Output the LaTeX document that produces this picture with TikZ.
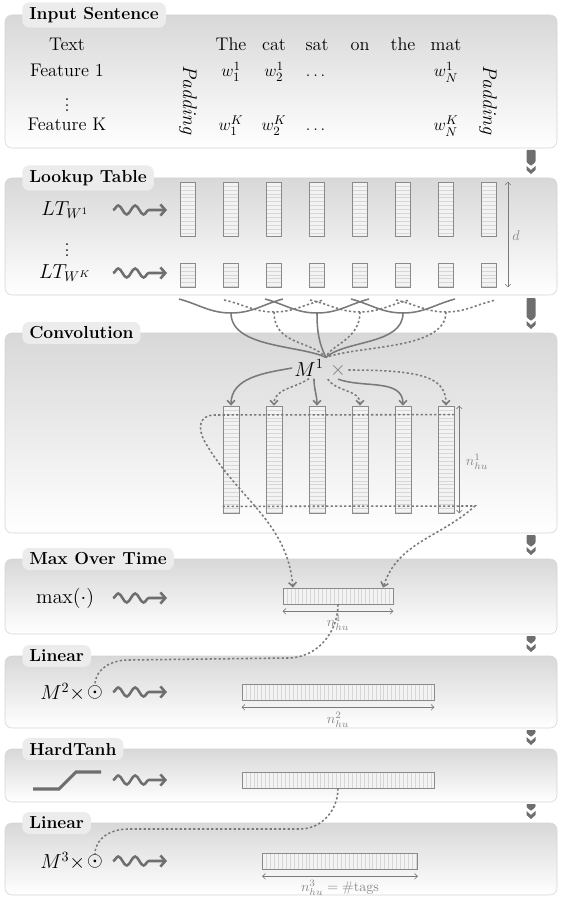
\documentclass[tikz,border=0pt]{standalone}
\usepackage{amsmath,amssymb}
\usetikzlibrary{arrows.meta,positioning,calc,decorations.pathmorphing}
\definecolor{tabgray}{HTML}{ECECEC}
\definecolor{layertop}{HTML}{D8D8D8}
\definecolor{layerline}{HTML}{D4D4D4}
\definecolor{arrgray}{HTML}{6E6E6E}
\definecolor{linegray}{HTML}{7A7A7A}
\definecolor{colline}{HTML}{8A8A8A}
\definecolor{colfill}{HTML}{F3F3F3}
\definecolor{stripegray}{HTML}{D6D6D6}
\definecolor{labelgray}{HTML}{8A8A8A}

\begin{document}
\begin{tikzpicture}[x=0.025cm, y=-0.025cm,
    font=\fontsize{13}{15.6}\selectfont, inner sep=1.5pt,
    layerbox/.style={draw=layerline, top color=layertop, bottom color=white, rounded corners=5pt},
    tabbox/.style={fill=tabgray, rounded corners=5pt, anchor=west, inner xsep=5pt, inner ysep=3.5pt, font=\fontsize{12.4}{15}\selectfont\bfseries},
    oplabel/.style={font=\fontsize{14.5}{17}\selectfont},
    hstripes/.style={path picture={\foreach \k in {1,...,40}
        \draw[stripegray, line width=0.35pt] ([yshift=-\k*2.8pt]path picture bounding box.north west) -- ([yshift=-\k*2.8pt]path picture bounding box.north east);}},
    vstripes/.style={path picture={\foreach \k in {1,...,60}
        \draw[stripegray, line width=0.35pt] ([xshift=\k*2.8pt]path picture bounding box.north west) -- ([xshift=\k*2.8pt]path picture bounding box.south west);}},
    cellbox/.style={draw=colline, fill=colfill, line width=0.5pt, inner sep=0pt},
    ltcol/.style={cellbox, hstripes, minimum width=0.375cm},
    convcol/.style={cellbox, hstripes, minimum width=0.4cm, minimum height=2.675cm},
    hbar/.style={cellbox, vstripes, minimum height=0.4cm},
    conn/.style={draw=linegray, line width=1.1pt},
    dotconn/.style={conn, dash pattern=on 1.6pt off 1.6pt},
    flowtip/.style={-{Straight Barb[length=3pt,width=5.5pt]}},
    dimline/.style={draw=linegray, line width=0.45pt, {Straight Barb[length=2pt,width=4pt]}-{Straight Barb[length=2pt,width=4pt]}},
    dimlabel/.style={text=labelgray, font=\fontsize{10}{12}\selectfont},
    wavy/.style={draw=arrgray, line width=1.8pt, decorate, decoration={snake, amplitude=3.2pt, segment length=12pt, post length=8pt}, -{Straight Barb[length=3.5pt,width=8pt]}},
]
\useasboundingbox (0,0) rectangle (563,898);

% layers
\path[layerbox] (5,15) rectangle (557,148);
\path[layerbox] (5,178) rectangle (557,295);
\path[layerbox] (5,333) rectangle (557,533);
\path[layerbox] (5,559) rectangle (557,634);
\path[layerbox] (5,656) rectangle (557,728);
\path[layerbox] (5,749) rectangle (557,802);
\path[layerbox] (5,823) rectangle (557,895);

\node[tabbox] (tabin) at (22,15) {Input Sentence};
\node[tabbox] (tablt) at (22,178) {Lookup Table};
\node[tabbox] (tabconv) at (22,333) {Convolution};
\node[tabbox] (tabmax) at (22,559) {Max Over Time};
\node[tabbox] (tablina) at (22,656) {Linear};
\node[tabbox] (tabht) at (22,749) {HardTanh};
\node[tabbox] (tablinb) at (22,823) {Linear};

% flow arrows on the right
\foreach \ya/\yb in {150/176, 298/331, 535/557, 636/654, 730/747, 804/821}{
  \fill[arrgray, rounded corners=0.6pt] (526.5,\ya) -- (535.5,\ya) -- (535.5,\yb-14) -- (531,\yb-10) -- (526.5,\yb-14) -- cycle;
  \fill[arrgray] (526.5,\yb-10) -- (531,\yb-6) -- (535.5,\yb-10) -- (535.5,\yb-6) -- (531,\yb-2) -- (526.5,\yb-6) -- cycle;
}

% input sentence
\node[anchor=base] (txt) at (67,51) {Text};
\node[anchor=base] (feata) at (67,77) {Feature 1};
\node[inner sep=0pt] (vdotsa) at (67,101) {$\vdots$};
\node[anchor=base] (featk) at (67,131) {Feature K};
\node[rotate=-90, font=\fontsize{14}{16}\selectfont\itshape] (padl) at (188,100) {Padding};
\node[rotate=-90, font=\fontsize{14}{16}\selectfont\itshape] (padr) at (488,100) {Padding};
\foreach \w [count=\i] in {The,cat,sat,on,the,mat}
  \node[anchor=base] (word\i) at ({188+43*\i},51) {\w};
\node[anchor=base] (wa1) at (231,77) {$w_1^1$};
\node[anchor=base] (wa2) at (274,77) {$w_2^1$};
\node[anchor=base] (wadots) at (317,77) {$\dots$};
\node[anchor=base] (waN) at (446,77) {$w_N^1$};
\node[anchor=base] (wk1) at (231,131) {$w_1^K$};
\node[anchor=base] (wk2) at (274,131) {$w_2^K$};
\node[anchor=base] (wkdots) at (317,131) {$\dots$};
\node[anchor=base] (wkN) at (446,131) {$w_N^K$};

% lookup table
\node[oplabel] (lta) at (65,210) {$LT_{W^1}$};
\node[inner sep=0pt] (vdotsb) at (67,246) {$\vdots$};
\node[oplabel] (ltk) at (65,273) {$LT_{W^K}$};
\draw[wavy] (113,210) -- (167,210);
\draw[wavy] (113,273) -- (167,273);
\foreach \i in {1,...,8}{
  \node[ltcol, minimum height=1.35cm] (colw\i) at ({188+43*(\i-1)},209) {};
  \node[ltcol, minimum height=0.6cm] (colk\i) at ({188+43*(\i-1)},275) {};
}
\draw[dimline] ($(colw8.north east)+(11,0)$) -- ($(colk8.south east)+(11,0)$);
\node[dimlabel] (dlab) at (516,236) {$d$};

% windows
\foreach \x [count=\i] in {231,317,403}{
  \coordinate (js\i) at (\x,313);
  \draw[conn] (\x-52,299) to[out=-15,in=180] (js\i) to[out=0,in=195] (\x+52,299);
}
\foreach \x [count=\i] in {274,360,446}{
  \coordinate (jd\i) at (\x,312);
  \draw[dotconn] (\x-50,300) to[out=-12,in=180] (jd\i) to[out=0,in=192] (\x+50,300);
}

% convolution
\node[oplabel] (mone) at (309,368) {$M^1$};
\node[oplabel, text=linegray] (xone) at (338,370) {$\times$};
\draw[conn] (js1) .. controls (231,348) and (300,345) .. (mone.north east);
\draw[conn] (js2) .. controls (317,335) and (320,345) .. (mone.north east);
\draw[conn] (js3) .. controls (403,345) and (345,340) .. (mone.north east);
\draw[dotconn] (jd1) .. controls (274,345) and (310,340) .. (mone.north east);
\draw[dotconn] (jd2) .. controls (360,340) and (330,345) .. (mone.north east);
\draw[dotconn] (jd3) .. controls (446,350) and (360,345) .. (mone.north east);

\foreach \i in {1,...,6}
  \node[convcol] (cc\i) at ({188+43*\i},459.5) {};
\draw[conn, flowtip] (mone.west) to[out=190,in=90] (cc1.north);
\draw[dotconn, flowtip] (mone.south) to[out=-145,in=90] (cc2.north);
\draw[conn, flowtip] (mone.-65) to[out=-90,in=90] (cc3.north);
\draw[dotconn, flowtip] (xone.south west) to[out=-55,in=90] (cc4.north);
\draw[conn, flowtip] (xone.south) to[out=-20,in=90] (cc5.north);
\draw[dotconn, flowtip] (xone.east) .. controls (425,370) and (446,378) .. (cc6.north);
\draw[dimline] ($(cc6.north east)+(5,0)$) -- ($(cc6.south east)+(5,0)$);
\node[dimlabel] (nconv) at (477,462) {$n_{hu}^1$};

% max over time
\node[oplabel] (maxop) at (65,598) {$\max(\cdot)$};
\draw[wavy] (113,598) -- (167,598);
\node[hbar, minimum width=2.75cm] (mx) at (338,596) {};
\draw[dimline] ($(mx.south west)+(0,7)$) -- ($(mx.south east)+(0,7)$);
\node[dimlabel] (nmax) at (338,623) {$n_{hu}^1$};
\draw[dotconn, flowtip] ($(cc6.north east)+(0,9)$) -- (215,415) .. controls (199,415) and (197,428) .. (205,442) to[out=-60,in=95] ($(mx.north)+(-45,0)$);
\draw[dotconn, flowtip] ($(cc1.south west)+(0,-7)$) -- (475,506) to[out=-138,in=72] ($(mx.north)+(45,0)$);

% linear
\node[oplabel, inner sep=0pt] (otwo) at (95,692) {$\odot$};
\node[oplabel, left=1pt of otwo, inner sep=0pt] (mtwo) {$M^2\times$};
\draw[wavy] (113,692) -- (167,692);
\node[hbar, minimum width=4.8cm] (lbtwo) at (338,692) {};
\draw[dimline] ($(lbtwo.south west)+(0,7)$) -- ($(lbtwo.south east)+(0,7)$);
\node[dimlabel] (ntwo) at (338,720) {$n_{hu}^2$};
\draw[dotconn] (mx.south) to[out=-90,in=0] (288,658) -- (128,660) to[out=180,in=90] (otwo.north);

% hardtanh
\draw[arrgray, line width=2.2pt] (33,789) -- (59,789) -- (76,772) -- (101,772);
\draw[wavy] (113,780) -- (167,780);
\node[hbar, minimum width=4.8cm] (hb) at (338,780) {};

% linear
\node[oplabel, inner sep=0pt] (othree) at (95,861) {$\odot$};
\node[oplabel, left=1pt of othree, inner sep=0pt] (mthree) {$M^3\times$};
\draw[wavy] (113,861) -- (167,861);
\node[hbar, minimum width=3.875cm] (lbthree) at (340,861) {};
\draw[dimline] ($(lbthree.south west)+(0,7)$) -- ($(lbthree.south east)+(0,7)$);
\node[dimlabel] (nthree) at (340,888) {$n_{hu}^3 = \text{\#tags}$};
\draw[dotconn] (hb.south) to[out=-90,in=0] (300,829) -- (128,829) to[out=180,in=90] (othree.north);
\end{tikzpicture}
\end{document}
